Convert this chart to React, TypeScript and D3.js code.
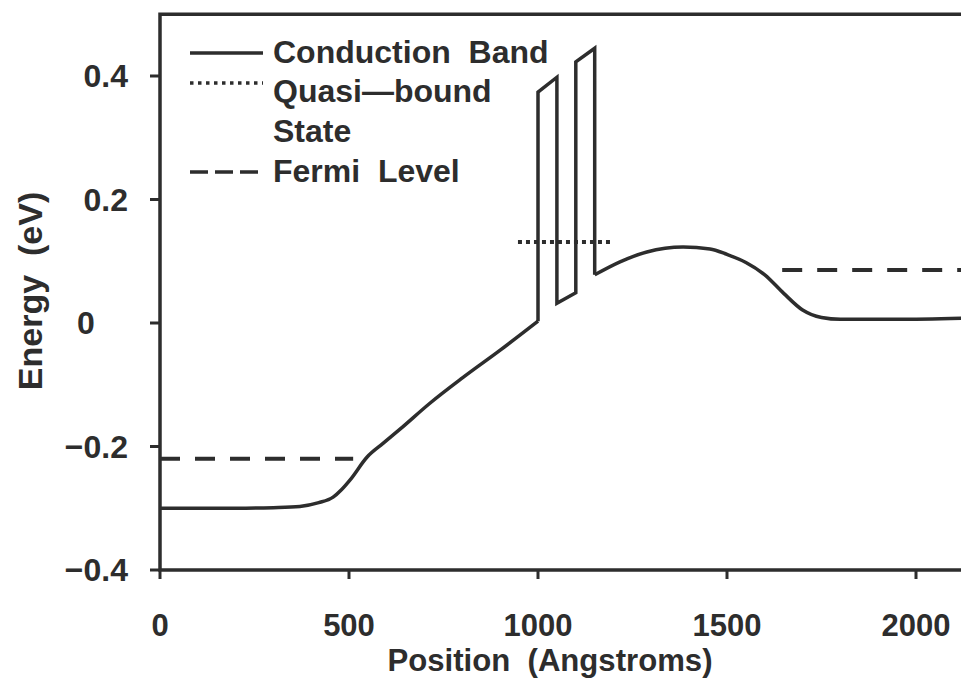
import React from 'react';
import * as d3 from 'd3';

const W = 961, H = 686;
const INK = '#2d2d2d';
const FONT = '"Liberation Sans", Arial, sans-serif';

// conduction band (eV vs Angstrom), three pieces: smooth ramp, double barrier, smooth dome
const bandLeft: [number, number][] = [
  [0, -0.3], [200, -0.3], [300, -0.299], [370, -0.297], [420, -0.291], [458, -0.282],
  [480, -0.27], [503, -0.254], [548, -0.217], [590, -0.195], [635, -0.172],
  [714, -0.13], [800, -0.089], [900, -0.044], [1000, 0.003],
];
const bandBarriers: [number, number][] = [
  [1000, 0.003], [1000, 0.374], [1050, 0.398], [1050, 0.032],
  [1100, 0.049], [1100, 0.423], [1150, 0.445], [1150, 0.078],
];
const bandRight: [number, number][] = [
  [1150, 0.078], [1217, 0.099], [1288, 0.115], [1384, 0.123], [1455, 0.12],
  [1500, 0.111], [1550, 0.098], [1600, 0.078], [1650, 0.048], [1700, 0.021],
  [1750, 0.009], [1800, 0.006], [1950, 0.006], [2130, 0.008],
];
const quasiBound: [number, number][] = [[947, 0.131], [1199, 0.131]];
const fermiLeft: [number, number][] = [[0, -0.22], [511, -0.22]];
const fermiRight: [number, number][] = [[1646, 0.086], [2130, 0.086]];

const xTicks = [0, 500, 1000, 1500, 2000];
const yTicks = [-0.4, -0.2, 0, 0.2, 0.4];
const legendItems = [
  { label: ['Conduction  Band'], dash: null as string | null },
  { label: ['Quasi\u2014bound', 'State'], dash: '3.5 4.5' },
  { label: ['Fermi  Level'], dash: '18 7' },
];

export default function App() {
  const x = d3.scaleLinear().domain([0, 2000]).range([160, 916]);
  const y = d3.scaleLinear().domain([-0.4, 0.4]).range([570, 76]);
  const yTop = y(0.5);
  const xEnd = x(2130);

  const smooth = d3.line<[number, number]>().x(d => x(d[0])).y(d => y(d[1])).curve(d3.curveMonotoneX);
  const straight = d3.line<[number, number]>().x(d => x(d[0])).y(d => y(d[1]));

  const yFmt = (v: number) => (v === 0 ? '0' : d3.format('.1f')(v).replace('-', '\u2212'));

  return (
    <svg width={W} height={H} style={{ position: 'absolute', left: 0, top: 0, background: '#fff' }}
      fontFamily={FONT} fontWeight="bold" fill={INK}>
      {/* frame */}
      <path d={`M${xEnd},${yTop}H${x(0)}V${y(-0.4)}H${xEnd}`} fill="none" stroke={INK} strokeWidth={3.5} />

      {/* y ticks */}
      {yTicks.map(t => (
        <g key={'y' + t}>
          <line x1={x(0) - 10} x2={x(0)} y1={y(t)} y2={y(t)} stroke={INK} strokeWidth={3} />
          <text x={t === 0 ? 86 : 128} y={y(t) + 11} fontSize={32}
            textAnchor={t === 0 ? 'middle' : 'end'}>{yFmt(t)}</text>
        </g>
      ))}

      {/* x ticks */}
      {xTicks.map(t => (
        <g key={'x' + t}>
          <line x1={x(t)} x2={x(t)} y1={y(-0.4)} y2={y(-0.4) + 9} stroke={INK} strokeWidth={3} />
          <text x={x(t)} y={636} fontSize={31} textAnchor="middle">{t}</text>
        </g>
      ))}

      <text x={550} y={671} fontSize={31} textAnchor="middle" style={{ whiteSpace: 'pre' }}
        textLength={325} lengthAdjust="spacingAndGlyphs">Position  (Angstroms)</text>
      <text transform="translate(42,291) rotate(-90)" fontSize={34} textAnchor="middle"
        style={{ whiteSpace: 'pre' }}>Energy  (eV)</text>

      {/* data */}
      <g fill="none" stroke={INK}>
        <path d={smooth(bandLeft) ?? ''} strokeWidth={3.5} />
        <path d={straight(bandBarriers) ?? ''} strokeWidth={3.5} strokeLinejoin="miter" />
        <path d={smooth(bandRight) ?? ''} strokeWidth={3.5} />
        <path d={straight(quasiBound) ?? ''} strokeWidth={4} strokeDasharray="4 4" />
        <path d={straight(fermiLeft) ?? ''} strokeWidth={4} strokeDasharray="20 15" />
        <path d={straight(fermiRight) ?? ''} strokeWidth={4} strokeDasharray="20 15" />
      </g>

      {/* legend */}
      {legendItems.map((it, i) => {
        const ly = [53, 83, 172][i];
        const base = [63, 102, 182][i];
        return (
          <g key={i}>
            <line x1={190} x2={263} y1={ly} y2={ly} stroke={INK}
              strokeWidth={3.5} strokeDasharray={it.dash ?? undefined} />
            {it.label.map((s, j) => (
              <text key={j} x={273} y={base + j * 40} fontSize={32} style={{ whiteSpace: 'pre' }}>{s}</text>
            ))}
          </g>
        );
      })}
    </svg>
  );
}
